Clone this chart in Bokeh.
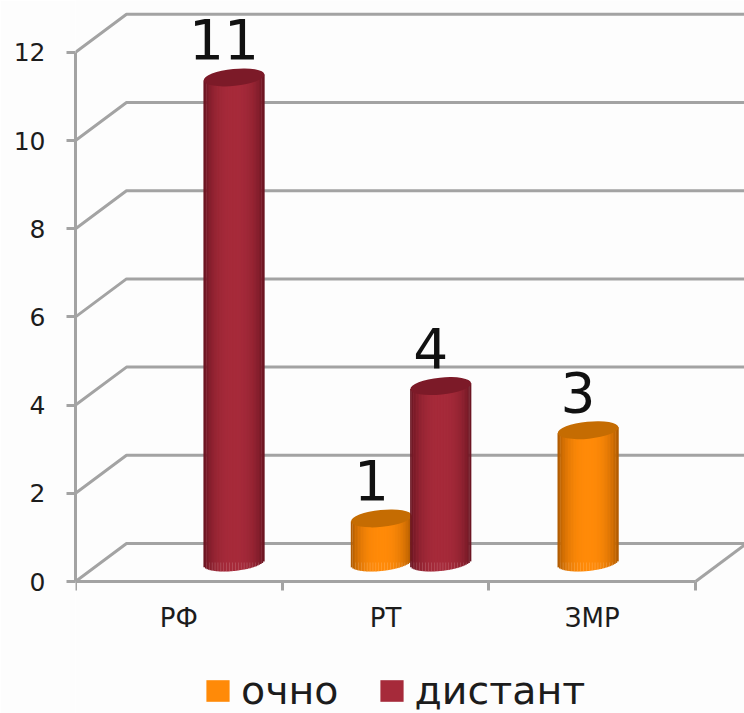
import math
from bokeh.plotting import figure
from bokeh.embed import file_html
from bokeh.resources import INLINE
from bokeh.core.properties import value
from bokeh.models import FixedTicker, Legend, LegendItem, Range1d, LinearAxis

categories = ["РФ", "РТ", "ЗМР"]
ochno = [0, 1, 3]
distant = [11, 4, 0]
y_ticks = [0, 2, 4, 6, 8, 10, 12]
series_names = ["очно", "дистант"]

W, H = 744, 713
L, B = 75, 132
PX_X = 206.7
PX_Y = 44.1
DX, DY = 51 / PX_X, 38 / PX_Y
BAR_W = 61 / PX_X
SHIFT = {0: 0.48, 1: 0.767}
BG = "#fdfdfd"
GRID = "#a3a3a3"
TXT = "#1c1c1c"
FONT = "DejaVu Sans"

p = figure(width=W, height=H, output_backend="svg", toolbar_location=None,
           frame_width=W - L, frame_height=H,
           x_range=Range1d(0, (W - L) / PX_X), y_range=Range1d(-B / PX_Y, (H - B) / PX_Y),
           x_axis_location=None, y_axis_location=None,
           min_border_left=L, min_border_right=0, min_border_top=0, min_border_bottom=0,
           background_fill_color=BG, border_fill_color=BG, outline_line_color=None)
p.grid.visible = False
p.styles = {"position": "absolute", "left": "0px", "top": "0px"}

# walls
xs, ys = [], []
xe = (W - L) / PX_X + 0.1
for v in y_ticks:
    xs.append([0, DX, xe])
    ys.append([v, v + DY, v + DY])
xs.append([3, 3 + DX]); ys.append([0, DY])
p.multi_line(xs, ys, line_color=GRID, line_width=3)

# axes
yax = LinearAxis(ticker=FixedTicker(ticks=y_ticks), bounds=(0, 12))
yax.axis_line_color = GRID; yax.axis_line_width = 3
yax.major_tick_line_color = GRID; yax.major_tick_line_width = 3
yax.major_tick_out = 9; yax.major_tick_in = 0; yax.minor_tick_line_color = None
yax.major_label_text_font = FONT; yax.major_label_text_font_size = "25px"
yax.major_label_text_color = TXT; yax.major_label_standoff = 21
p.add_layout(yax, "left")

xax = LinearAxis(ticker=FixedTicker(ticks=[0.5, 1.5, 2.5], minor_ticks=[0, 1, 2, 3]),
                 major_label_overrides={i + 0.5: c for i, c in enumerate(categories)},
                 bounds=(0, 3), fixed_location=0)
xax.axis_line_color = GRID; xax.axis_line_width = 3
xax.major_tick_line_color = None
xax.minor_tick_line_color = GRID; xax.minor_tick_line_width = 3
xax.minor_tick_out = 9; xax.minor_tick_in = 0
xax.major_label_text_font = FONT; xax.major_label_text_font_size = "26px"
xax.major_label_text_color = TXT; xax.major_label_standoff = 12
p.add_layout(xax, "below")

# cylinders
PAL = [((255, 138, 8), (172, 88, 0), "#c56c02"), ((166, 42, 58), (104, 20, 32), "#7c1a28")]
N = 40
A, Bb, TILT = 30.5, 8.5, 0.1
renderers = []

def mix(c1, c2, t):
    return "#%02x%02x%02x" % tuple(round(a + (b - a) * t) for a, b in zip(c1, c2))

for s, vals in enumerate([ochno, distant]):
    mid, edge, cap = PAL[s]
    main = None
    for i, v in enumerate(vals):
        if v == 0:
            continue
        cx = i + SHIFT[s]
        base = DY / 2
        top = v + DY / 2
        r = p.vbar(x=[cx], bottom=[base], top=[top], width=BAR_W * 0.9,
                   fill_color=mix(mid, mid, 0), line_color=None)
        main = main or r
        for k in range(N):
            u = (k + 0.5) / N * 2 - 1
            off = u * A * math.tan(TILT) / PX_Y
            low = base + off - Bb * math.sqrt(1 - u * u) / PX_Y
            high = top + off
            shade = abs(u) ** 2.6
            p.vbar(x=[cx + u * BAR_W / 2], bottom=[low], top=[high], width=BAR_W / N * 1.15,
                   fill_color=mix(mid, edge, shade), line_color=None)
        p.ellipse(x=[cx], y=[top], width=[2 * A], height=[2 * Bb], width_units="screen",
                  height_units="screen", angle=[TILT], fill_color=cap, line_color=None)
        p.text(x=[cx], y=[top + 38.5 / PX_Y], text=[str(v)], x_offset=-10,
               text_align="center", text_baseline="alphabetic", text_color="#111111",
               text_font=value(FONT), text_font_size="55px")
    renderers.append(main)

legend = Legend(items=[LegendItem(label=n, renderers=[r]) for n, r in zip(series_names, renderers)],
                orientation="horizontal", location=(128, 0),
                background_fill_alpha=0, border_line_color=None,
                label_text_font=FONT, label_text_font_size="39.5px", label_text_color=TXT,
                glyph_width=29, glyph_height=27, label_standoff=9, spacing=38,
                padding=0, margin=0)
p.add_layout(legend, "center")

open("out.html", "w").write(file_html(p, INLINE))
